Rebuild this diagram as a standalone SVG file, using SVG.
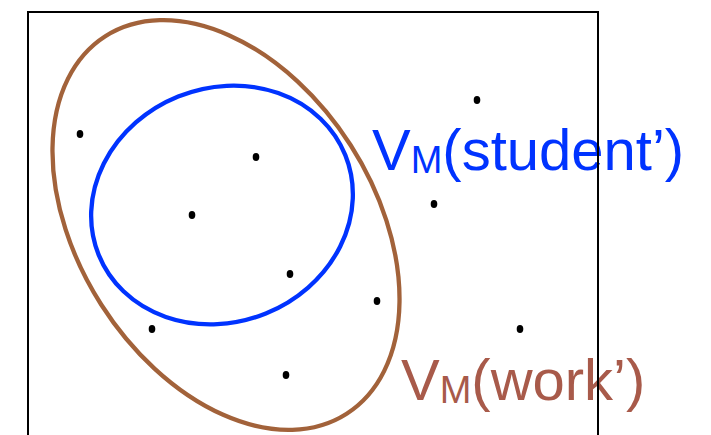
<svg xmlns="http://www.w3.org/2000/svg" width="711" height="435" viewBox="0 0 711 435">
<style>
.lbl{font-family:"Liberation Sans",Arial,sans-serif;font-size:58px}
.dot{fill:#000}
</style>
<defs>
<ellipse id="pt" class="dot" cx="0" cy="0" rx="3.3" ry="3.9"/>
</defs>
<rect width="711" height="435" fill="#fff"/>
<g id="work-set">
<ellipse cx="226" cy="225" rx="224" ry="148" transform="rotate(57.4 226 225)" fill="none" stroke="#a2623a" stroke-width="4.3"/>
</g>
<g id="student-set">
<ellipse cx="222" cy="205" rx="133" ry="117" transform="rotate(-22 222 205)" fill="none" stroke="#0033ff" stroke-width="4.3"/>
</g>
<g id="points">
<use href="#pt" x="80" y="134"/>
<use href="#pt" x="477" y="100"/>
<use href="#pt" x="256" y="157"/>
<use href="#pt" x="434" y="204"/>
<use href="#pt" x="192" y="215"/>
<use href="#pt" x="290" y="274"/>
<use href="#pt" x="377" y="301"/>
<use href="#pt" x="152" y="329"/>
<use href="#pt" x="520" y="329"/>
<use href="#pt" x="286" y="375"/>
</g>
<g id="label-student">
<text class="lbl" x="372" y="170" fill="#0033ff">V<tspan font-size="38" dy="3">M</tspan><tspan dy="-3">(student’)</tspan></text>
</g>
<g id="label-work">
<text class="lbl" x="401" y="400" fill="#a85a4a">V<tspan font-size="38" dy="3">M</tspan><tspan dy="-3">(work’)</tspan></text>
</g>
<g id="frame">
<path d="M28 440 V12 H598 V440" fill="none" stroke="#000" stroke-width="2"/>
</g>
</svg>
